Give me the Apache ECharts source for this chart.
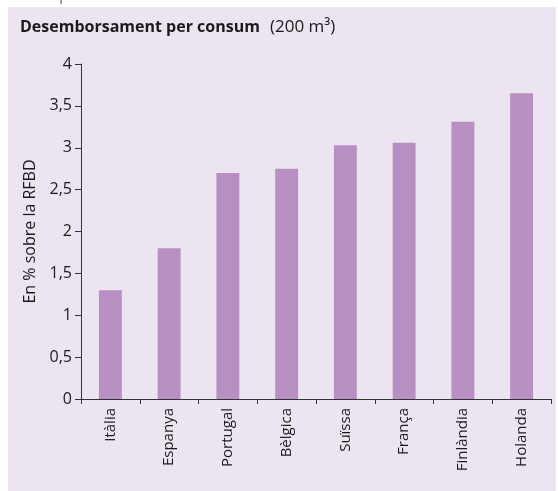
<!DOCTYPE html>
<html>
<head>
<meta charset="utf-8">
<script src="https://cdn.jsdelivr.net/npm/echarts@6/dist/echarts.min.js"></script>
<style>
html,body{margin:0;padding:0;background:#ffffff;}
#c{width:558px;height:491px;}
</style>
</head>
<body>
<div id="c"></div>
<script>
var categories = ['Itàlia', 'Espanya', 'Portugal', 'Bèlgica', 'Suïssa', 'França', 'Finlàndia', 'Holanda'];
var values = [1.30, 1.80, 2.70, 2.75, 3.03, 3.06, 3.31, 3.65];
var titleBold = 'Desemborsament per consum';
var titleNormal = '(200 m³)';
var yAxisTitle = 'En % sobre la RFBD';

var chart = echarts.init(document.getElementById('c'));
var font = '"Open Sans", "DejaVu Sans", sans-serif';
chart.setOption({
  backgroundColor: '#ffffff',
  animation: false,
  graphic: [
    { type: 'rect', z: -10, shape: { x: 8, y: 7, width: 548, height: 484 }, style: { fill: '#ede4f1' } },
    { type: 'line', shape: { x1: 61, y1: 0, x2: 61, y2: 4 }, style: { stroke: '#444', lineWidth: 1 } }
  ],
  title: {
    left: 15, top: 13,
    text: '{b|' + titleBold + '}  {n|' + titleNormal + '}',
    textStyle: {
      rich: {
        b: { fontFamily: font, fontSize: 16, fontWeight: 'bold', color: '#1a1a1a' },
        n: { fontFamily: font, fontSize: 17, fontWeight: 'normal', color: '#1a1a1a' }
      }
    }
  },
  grid: { left: 81, right: 7, top: 64, bottom: 92 },
  xAxis: {
    type: 'category',
    data: categories,
    axisLine: { lineStyle: { color: '#333', width: 1 } },
    axisTick: { show: true, length: 5, lineStyle: { color: '#333' } },
    axisLabel: { rotate: 90, margin: 9, fontFamily: font, fontSize: 15, color: '#1a1a1a' }
  },
  yAxis: {
    type: 'value', min: 0, max: 4, interval: 0.5,
    name: yAxisTitle, nameLocation: 'middle', nameGap: 43, nameRotate: 90,
    nameTextStyle: { fontFamily: font, fontSize: 16, color: '#1a1a1a' },
    axisLine: { show: true, lineStyle: { color: '#333', width: 1 } },
    axisTick: { show: true, length: 6, lineStyle: { color: '#333' } },
    splitLine: { show: false },
    axisLabel: {
      margin: 9, fontFamily: font, fontSize: 16, color: '#1a1a1a',
      formatter: function (v) { return String(v).replace('.', ','); }
    }
  },
  series: [{
    type: 'bar',
    data: values,
    barWidth: '39%',
    itemStyle: { color: '#b88fc3' }
  }]
});
</script>
</body>
</html>
